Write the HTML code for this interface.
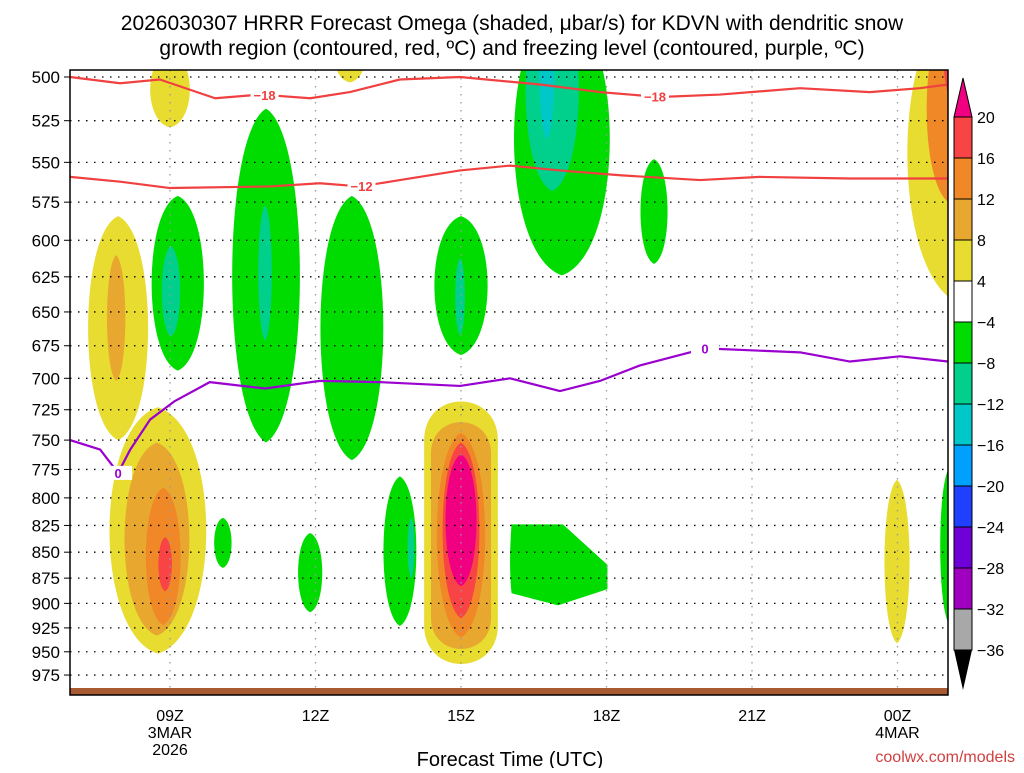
<!DOCTYPE html>
<html><head><meta charset="utf-8"><style>
body{margin:0;background:#fff;width:1024px;height:768px;overflow:hidden;font-family:"Liberation Sans",sans-serif}
svg text{font-family:"Liberation Sans","DejaVu Sans",sans-serif}
</style></head><body>
<svg id="chart" width="1024" height="768" xmlns="http://www.w3.org/2000/svg">
<text x="512" y="30" font-size="21" text-anchor="middle">2026030307 HRRR Forecast Omega (shaded, μbar/s) for KDVN with dendritic snow</text>
<text x="512" y="55" font-size="21" text-anchor="middle">growth region (contoured, red, ºC) and freezing level (contoured, purple, ºC)</text>
<defs><clipPath id="pc"><rect x="70" y="70" width="878" height="625"/></clipPath></defs>
<g id="shades" clip-path="url(#pc)"></g>
<g id="grid"></g>
<g id="lines" clip-path="url(#pc)"></g>
<rect x="70" y="688" width="878" height="7" fill="#a85a30"/>
<rect x="70" y="70" width="878" height="625" fill="none" stroke="#000" stroke-width="1.5"/>
<g id="axes"></g>
<g id="cbar"></g>
<text x="510" y="766" font-size="20" text-anchor="middle">Forecast Time (UTC)</text>
<text x="1015" y="762" font-size="16" text-anchor="end" fill="#d04040">coolwx.com/models</text>
</svg>
<script>
const NS="http://www.w3.org/2000/svg";
// axes
const pressureTicks=[500,525,550,575,600,625,650,675,700,725,750,775,800,825,850,875,900,925,950,975];
const hourTicks=[9,12,15,18,21,24];
const hourLabels=["09Z","12Z","15Z","18Z","21Z","00Z"];
const dateLabels=[["3MAR","2026"],[],[],[],[],["4MAR"]];
// contours (hour, pressure)
const c18Hours=[6.94,7.97,8.79,9.93,10.86,11.89,12.71,13.74,14.98,16.63,17.87,19.10,20.34,21.99,23.43,24.46,25.04];
const c18Press=[500,503.5,501.4,512,509.9,512,508.5,501.4,500,504.2,508.5,511.3,509.9,506.3,508.5,506.3,504.2];
const c12Hours=[6.94,7.97,9.0,11.06,12.09,12.92,13.74,14.98,16.01,17.04,18.28,19.93,21.16,23.02,25.04];
const c12Press=[559,562,566,565,563,565,561,555,552,555,558,561,559,560,560];
const frzHours=[6.94,7.56,7.93,8.18,8.59,9.10,9.82,10.96,12.09,13.33,14.98,16.01,17.04,17.87,18.69,20.03,21.99,23.02,24.05,25.04];
const frzPress=[750,758,778,758,733,718,703,708,702,703,706,700,710,702,690,677,680,687,683,687];
// omega shaded layers: center hour, top p, bottom p, half-width hours, level, shape
const blobHour=[7.93,7.89,9.0,9.16,9.02,10.98,10.96,12.75,15.0,14.98,17.08,16.88,16.77,18.98,25.3,25.1,25.15,12.71,8.75,8.73,8.86,8.9,10.09,11.89,13.74,13.97,15.0,15.0,15.0,15.0,15.0,17.0,23.99,25.08];
const blobTop=[584,610,486,571,604,518,577,571,584,612,460,453,453,548,460,466,466,479,723,752,791,836,818,832,781,818,711,729,744,752,762,824,784,773];
const blobBot=[750,702,529,694,668,752,671,767,682,667,624,568,536,616,644,576,514,503,952,933,922,888,865,909,923,875,973,955,935,915,883,902,941,922];
const blobHalfW=[0.62,0.19,0.41,0.54,0.19,0.70,0.14,0.65,0.55,0.10,0.99,0.55,0.16,0.28,1.1,0.5,0.2,0.3,1.0,0.67,0.36,0.14,0.18,0.25,0.34,0.07,0.76,0.62,0.5,0.38,0.32,1.02,0.26,0.2];
const blobLevel=[4,8,4,-4,-8,-4,-8,-4,-4,-8,-4,-8,-12,-4,4,12,16,4,4,8,12,16,-4,-4,-4,-8,4,8,12,16,20,-4,4,-4];
const blobShape=["lens","lens","lens","lens","lens","lens","lens","lens","lens","lens","lens","lens","lens","lens","lens","lens","lens","lens","lens","lens","lens","lens","lens","lens","lens","lens","round","round","lens","lens","lens","box","lens","lens"];
// colorbar
const cbLabels=["20","16","12","8","4","−4","−8","−12","−16","−20","−24","−28","−32","−36"];
const cbColors=["#f84444","#f08828","#e8a830","#e8dc30","#ffffff","#00dc00","#00d08c","#00c8c8","#00a0ff","#2040ff","#7000d8","#a000c0","#a8a8a8"];
const levelColor={"4":"#e8dc30","8":"#e8a830","12":"#f08828","16":"#f84444","20":"#f00080","-4":"#00dc00","-8":"#00d08c","-12":"#00c8c8"};

const xS=h=>170+(h-9)*48.5;
const yS=p=>77+Math.log(p/500)*895.5;
function mk(tag,attrs,parent){const e=document.createElementNS(NS,tag);for(const k in attrs)e.setAttribute(k,attrs[k]);parent.appendChild(e);return e;}
const shadesG=document.getElementById('shades'),gridG=document.getElementById('grid'),linesG=document.getElementById('lines'),axesG=document.getElementById('axes'),cbarG=document.getElementById('cbar');

blobHour.forEach((h,i)=>{
  const cx=xS(h),t=yS(blobTop[i]),b=yS(blobBot[i]),w=blobHalfW[i]*48.5;let d;
  if(blobShape[i]==="round"){const r=Math.min(w,(b-t)/2);d=`M${cx-w},${t+r*1.3} C${cx-w},${t-r*0.1} ${cx+w},${t-r*0.1} ${cx+w},${t+r*1.3} L${cx+w},${b-r*1.3} C${cx+w},${b+r*0.1} ${cx-w},${b+r*0.1} ${cx-w},${b-r*1.3} Z`;}
  else if(blobShape[i]==="box"){const l=cx-w,r=cx+w;d=`M${l+3},${t} L${l+(r-l)*0.55},${t} L${r},${t+(b-t)*0.5} L${r},${t+(b-t)*0.8} L${l+(r-l)*0.5},${b} L${l+3},${b-(b-t)*0.15} Q${l},${b-(b-t)*0.5} ${l+3},${t} Z`;}
  else {const k=1.33*w;d=`M${cx},${t} C${cx+k},${t+(b-t)*0.08} ${cx+k},${b-(b-t)*0.08} ${cx},${b} C${cx-k},${b-(b-t)*0.08} ${cx-k},${t+(b-t)*0.08} ${cx},${t} Z`;}
  const p=mk('path',{d:d,fill:levelColor[String(blobLevel[i])]},shadesG);
  
  
});

pressureTicks.forEach(p=>{
  const y=yS(p);
  const l=mk('line',{x1:70,x2:948,y1:y,y2:y,stroke:'#000','stroke-width':1.3,'stroke-dasharray':'1.5 6.5'},gridG);
  
  
  const tk=mk('line',{x1:64,x2:70,y1:y,y2:y,stroke:'#000'},axesG);
  
  
  const tx=mk('text',{x:60,y:y+6,'font-size':17,'text-anchor':'end'},axesG);tx.textContent=p;
  
  
});
hourTicks.forEach((h,i)=>{
  const x=xS(h);
  const l=mk('line',{x1:x,x2:x,y1:70,y2:695,stroke:'#999','stroke-width':1.3,'stroke-dasharray':'1.5 6.5'},gridG);
  
  
  const tx=mk('text',{x:x,y:721,'font-size':16,'text-anchor':'middle'},axesG);tx.textContent=hourLabels[i];
  
  
  dateLabels[i].forEach((s,j)=>{const d=mk('text',{x:x,y:738+j*17,'font-size':16,'text-anchor':'middle'},axesG);d.textContent=s;
    
    });
});

function contour(hs,ps,color,name,labelIdx,label){
  const pts=hs.map((h,i)=>xS(h)+','+yS(ps[i])).join(' ');
  const pl=mk('polyline',{points:pts,fill:'none',stroke:color,'stroke-width':2.2,'stroke-linejoin':'round'},linesG);
  
  
  labelIdx.forEach(h=>{
    let p=ps[0];for(let i=0;i<hs.length-1;i++){if(h>=hs[i]&&h<=hs[i+1]){p=ps[i]+(ps[i+1]-ps[i])*(h-hs[i])/(hs[i+1]-hs[i]);}}
    const x=xS(h),y=yS(p);
    mk('rect',{x:x-14,y:y-7,width:28,height:14,fill:'#fff'},linesG);
    const t=mk('text',{x:x,y:y+5,'font-size':13,'font-weight':'bold','text-anchor':'middle',fill:color},linesG);t.textContent=label;
    
    
  });
}
contour(c18Hours,c18Press,'#f04040','contour-minus18',[10.95,19.0],'−18');
contour(c12Hours,c12Press,'#f04040','contour-minus12',[12.95],'−12');
contour(frzHours,frzPress,'#9a00d0','freezing-level',[7.93,20.03],'0');

// colorbar
const cbX=954,cbW=18,cbTop=117,cbH=41;
const tri=mk('polygon',{points:`${cbX},${cbTop} ${cbX+cbW},${cbTop} ${cbX+cbW/2},${78}`,fill:'#f00080',stroke:'#000'},cbarG);


cbColors.forEach((c,i)=>{
  const r=mk('rect',{x:cbX,y:cbTop+i*cbH,width:cbW,height:cbH,fill:c,stroke:'#000','stroke-width':1},cbarG);
  
  
});
const cbBot=cbTop+cbColors.length*cbH;
const tri2=mk('polygon',{points:`${cbX},${cbBot} ${cbX+cbW},${cbBot} ${cbX+cbW/2},${cbBot+40}`,fill:'#000'},cbarG);


cbLabels.forEach((s,i)=>{
  const t=mk('text',{x:977,y:cbTop+i*cbH+6,'font-size':16},cbarG);t.textContent=s;
  
  
});
</script>
</body></html>
